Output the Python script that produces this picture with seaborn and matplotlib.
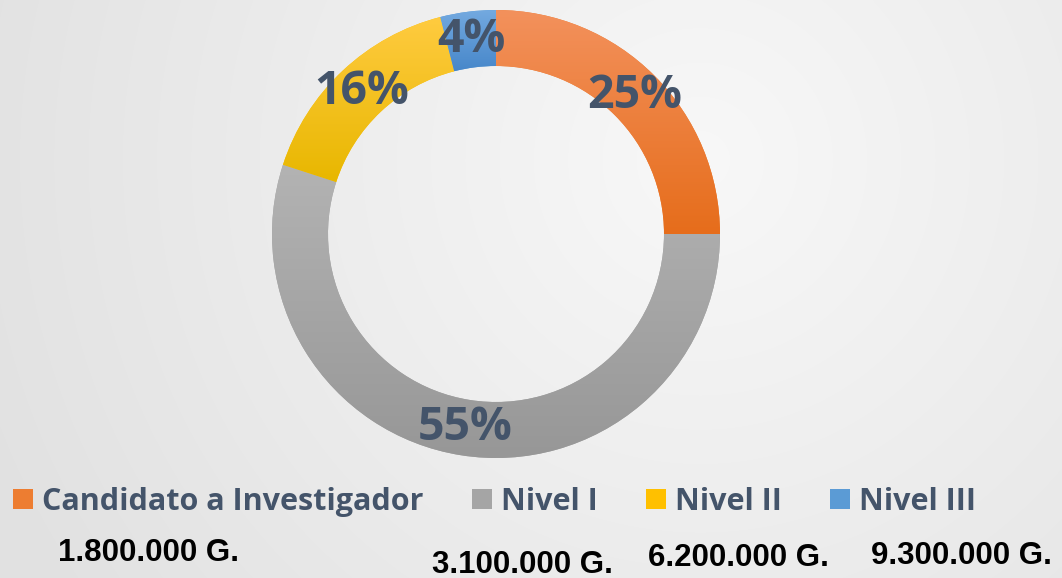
import numpy as np
import matplotlib
matplotlib.use("Agg")
import matplotlib.pyplot as plt
import seaborn as sns
from matplotlib.patches import Patch
from matplotlib.colors import LinearSegmentedColormap

# ---- data ----
categories = ["Candidato a Investigador", "Nivel I", "Nivel II", "Nivel III"]
shares = [25, 55, 16, 4]
amounts = ["1.800.000 G.", "3.100.000 G.", "6.200.000 G.", "9.300.000 G."]

sns.set_theme(style="white")
FAM = ["Open Sans", "DejaVu Sans"]
plt.rcParams["font.family"] = FAM

base_colors = ["#ED7D31", "#A5A5A5", "#FFC000", "#5B9BD5"]
top_colors = ["#F3915C", "#B3B3B3", "#FFCB40", "#74AAE0"]
bot_colors = ["#E66D1B", "#979797", "#E8B700", "#4787CA"]
label_color = "#44546A"

W, H = 1062, 578
fig = plt.figure(figsize=(W / 100, H / 100), dpi=100)

# background radial gradient
bg = fig.add_axes([0, 0, 1, 1], zorder=0)
yy, xx = np.mgrid[0:H, 0:W]
d = np.sqrt((xx - 700) ** 2 + (yy - 160) ** 2) / 760.0
d = np.clip(d, 0, 1)
light, dark = 0.972, 0.885
v = light - (light - dark) * d
img = np.dstack([v, v, v])
bg.imshow(img, aspect="auto", extent=[0, W, H, 0], interpolation="bilinear")
bg.set_axis_off()

# donut axes
cx, cy, R = 496, 234, 224
ax = fig.add_axes([(cx - R) / W, (H - cy - R) / H, 2 * R / W, 2 * R / H], zorder=1)
ax.patch.set_alpha(0)
wedges, texts, autotexts = ax.pie(
    shares, colors=base_colors, startangle=90, counterclock=False,
    radius=1.0, wedgeprops=dict(width=0.25, linewidth=0),
    autopct="%.0f%%", pctdistance=0.875,
    textprops=dict(color=label_color, fontsize=33.5, fontweight="bold", family=FAM),
)
ax.set_axis_off()

grad = np.linspace(0, 1, 256).reshape(-1, 1)
for w, tc, bc in zip(wedges, top_colors, bot_colors):
    ext = w.get_path().get_extents()
    cmap = LinearSegmentedColormap.from_list("g", [tc, bc])
    im = ax.imshow(grad, cmap=cmap, extent=[ext.x0, ext.x1, ext.y0, ext.y1],
                   origin="upper", aspect="auto", zorder=1)
    im.set_clip_path(w)
for t in autotexts:
    t.set_zorder(3)
ax.set_xlim(-1, 1)
ax.set_ylim(-1, 1)

# legend
handles = [Patch(facecolor=c, edgecolor="none") for c in base_colors]
leg = fig.legend(
    handles, categories, loc="center left",
    bbox_to_anchor=(13 / W, 1 - 502 / H), ncol=4, frameon=False,
    borderpad=0, borderaxespad=0, handlelength=0.65, handleheight=0.65,
    handletextpad=0.30, columnspacing=1.58,
    prop=dict(family=FAM, weight="bold", size=22),
)
for t in leg.get_texts():
    t.set_color(label_color)

# amounts
amount_x = [148, 522, 738, 961]
amount_y = [553, 565, 558, 556]
for s, x, y in zip(amounts, amount_x, amount_y):
    fig.text(x / W, 1 - y / H, s, ha="center", va="center",
             family=["Liberation Sans", "DejaVu Sans"], weight="bold",
             fontsize=22.5, color="black")

fig.savefig("out.png", dpi=100)
